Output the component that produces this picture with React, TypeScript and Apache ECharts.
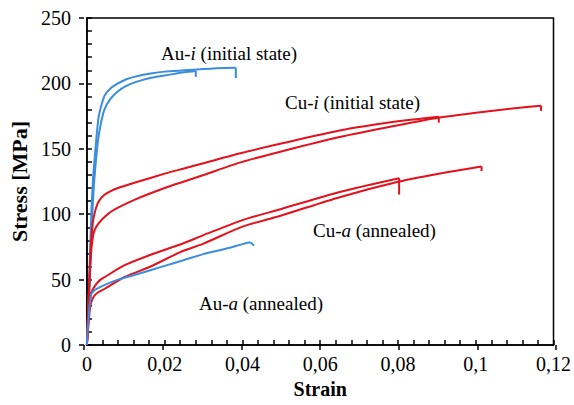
import React, { useEffect, useRef } from "react";
import * as echarts from "echarts";

// Tick labels
const xTickValues = [0, 0.02, 0.04, 0.06, 0.08, 0.1, 0.12];
const yTickValues = [0, 50, 100, 150, 200, 250];

// Au-i (initial state), two specimens (last point = fracture drop)
const auI1Strain = [0, 0.0004, 0.0008, 0.0012, 0.0016, 0.002, 0.0025, 0.003, 0.0038, 0.0046, 0.006, 0.008, 0.01, 0.0122, 0.0164, 0.02, 0.025, 0.03, 0.0334, 0.0383, 0.0383];
const auI1Stress = [0, 30, 70, 105, 128, 143, 160, 174, 184, 191, 196, 200, 203, 205, 207.5, 209, 210, 211, 211.5, 212, 204];
const auI2Strain = [0, 0.0005, 0.001, 0.0014, 0.0018, 0.0023, 0.0028, 0.0035, 0.0045, 0.006, 0.008, 0.01, 0.0125, 0.016, 0.02, 0.025, 0.028, 0.028];
const auI2Stress = [0, 30, 70, 100, 122, 140, 155, 168, 180, 188, 194, 198, 201, 204, 206, 208.5, 209.5, 205];

// Cu-i (initial state), two specimens
const cuI1Strain = [0, 0.0005, 0.001, 0.0015, 0.002, 0.0026, 0.0033, 0.0046, 0.006, 0.008, 0.0122, 0.02, 0.025, 0.03, 0.04, 0.05, 0.065, 0.08, 0.0905, 0.0905];
const cuI1Stress = [0, 40, 75, 93, 101, 107, 111, 115, 117.5, 120, 124, 131, 135, 139, 147, 154, 164, 171, 174.5, 170];
const cuI2Strain = [0, 0.0005, 0.001, 0.0015, 0.002, 0.003, 0.0046, 0.006, 0.008, 0.0122, 0.02, 0.025, 0.03, 0.04, 0.05, 0.065, 0.08, 0.09, 0.1, 0.11, 0.1168, 0.1168];
const cuI2Stress = [0, 38, 68, 82, 88, 93, 98, 101.5, 105, 111, 120, 125, 130, 140, 148, 159, 168, 173.5, 177.5, 181, 183, 179];

// Cu-a (annealed), two specimens
const cuA1Strain = [0, 0.0003, 0.0006, 0.0009, 0.0012, 0.0018, 0.0025, 0.0035, 0.0046, 0.0097, 0.0164, 0.025, 0.03, 0.04, 0.05, 0.065, 0.0803, 0.0803];
const cuA1Stress = [0, 15, 28, 36, 40.5, 44, 47, 50, 52, 61, 69, 78, 84, 95.5, 104, 117, 127.5, 115];
const cuA2Strain = [0, 0.0003, 0.0006, 0.0009, 0.0014, 0.002, 0.003, 0.0046, 0.0097, 0.0164, 0.024, 0.03, 0.04, 0.05, 0.065, 0.0803, 0.0905, 0.1015, 0.1015];
const cuA2Stress = [0, 12, 22, 30, 35, 38, 40.5, 43, 52, 60, 71, 77.5, 90.5, 99, 113, 125, 131, 136.5, 133];

// Au-a (annealed)
const auAStrain = [0, 0.0003, 0.0007, 0.0012, 0.0018, 0.0025, 0.0046, 0.008, 0.0122, 0.02, 0.025, 0.03, 0.035, 0.0405, 0.042, 0.043];
const auAStress = [0, 15, 30, 39.5, 41.5, 43, 46, 50, 53.5, 60.5, 65, 69.5, 73, 77.5, 78.5, 76];

const BLUE = "#3A8DDE";
const RED = "#E3111B";
const FONT = "'Liberation Serif', 'Times New Roman', serif";

const zip = (xs: number[], ys: number[]) => xs.map((x, i) => [x, ys[i]]);

const curves = [
  { name: "Au-i 1", color: BLUE, xs: auI1Strain, ys: auI1Stress },
  { name: "Au-i 2", color: BLUE, xs: auI2Strain, ys: auI2Stress },
  { name: "Cu-i 1", color: RED, xs: cuI1Strain, ys: cuI1Stress },
  { name: "Cu-i 2", color: RED, xs: cuI2Strain, ys: cuI2Stress },
  { name: "Cu-a 1", color: RED, xs: cuA1Strain, ys: cuA1Stress },
  { name: "Cu-a 2", color: RED, xs: cuA2Strain, ys: cuA2Stress },
  { name: "Au-a", color: BLUE, xs: auAStrain, ys: auAStress },
];

const fmtX = (v: number) => String(+v.toFixed(3)).replace(".", ",");

export default function App() {
  const ref = useRef<HTMLDivElement>(null);
  useEffect(() => {
    if (!ref.current) return;
    const chart = echarts.init(ref.current, null, { renderer: "svg" });
    const xMin = xTickValues[0];
    const xMax = xTickValues[xTickValues.length - 1];
    const yMin = yTickValues[0];
    const yMax = yTickValues[yTickValues.length - 1];
    const gridPos = { left: 84, right: 18, top: 18, bottom: 60 };
    const label = (text: string, x: number, y: number) => ({
      type: "text",
      left: x,
      top: y - 11,
      style: {
        text,
        fill: "#000",
        font: `19px ${FONT}`,
        rich: {
          n: { fontFamily: FONT, fontSize: 19, fill: "#000" },
          it: { fontFamily: FONT, fontSize: 19, fontStyle: "italic", fill: "#000" },
        },
      },
    });
    const series: any[] = [];
    curves.forEach((c) => {
      const pts = zip(c.xs, c.ys);
      series.push({
        name: c.name,
        type: "line",
        xAxisIndex: 0,
        yAxisIndex: 0,
        data: pts.slice(0, -1),
        showSymbol: false,
        symbol: "none",
        smooth: 0.25,
        lineStyle: { color: c.color, width: 2 },
        itemStyle: { color: c.color },
      });
      series.push({
        name: c.name + " drop",
        type: "line",
        xAxisIndex: 0,
        yAxisIndex: 0,
        data: pts.slice(-2),
        showSymbol: false,
        symbol: "none",
        lineStyle: { color: c.color, width: 2 },
        itemStyle: { color: c.color },
      });
    });
    chart.setOption({
      animation: false,
      backgroundColor: "#fff",
      grid: [
        { ...gridPos, show: true, borderColor: "#000", borderWidth: 1.5, backgroundColor: "transparent" },
        { ...gridPos },
      ],
      xAxis: [
        {
          type: "value",
          gridIndex: 0,
          min: xMin,
          max: xMax,
          interval: 0.02,
          name: "Strain",
          nameLocation: "middle",
          nameGap: 33,
          nameTextStyle: { fontFamily: FONT, fontSize: 20, fontWeight: "bold", color: "#000" },
          axisLine: { show: true, lineStyle: { color: "#000", width: 1.5 } },
          axisTick: { show: true, inside: true, length: 5, lineStyle: { color: "#000", width: 1.5 } },
          minorTick: { show: true, splitNumber: 5, length: 5, lineStyle: { color: "#000", width: 1.5 } },
          splitLine: { show: false },
          axisLabel: { margin: 9, fontFamily: FONT, fontSize: 20, color: "#000", formatter: fmtX },
        },
        {
          type: "value",
          gridIndex: 1,
          min: xMin,
          max: xMax,
          interval: 0.02,
          position: "bottom",
          axisLine: { show: false },
          axisTick: { show: true, inside: false, length: 5, lineStyle: { color: "#000", width: 1.5 } },
          splitLine: { show: false },
          axisLabel: { show: false },
        },
      ],
      yAxis: [
        {
          type: "value",
          gridIndex: 0,
          min: yMin,
          max: yMax,
          interval: 50,
          name: "Stress [MPa]",
          nameLocation: "middle",
          nameGap: 52,
          nameTextStyle: { fontFamily: FONT, fontSize: 22, fontWeight: "bold", color: "#000" },
          axisLine: { show: true, lineStyle: { color: "#000", width: 1.5 } },
          axisTick: { show: true, inside: true, length: 5, lineStyle: { color: "#000", width: 1.5 } },
          minorTick: { show: true, splitNumber: 5, length: 5, lineStyle: { color: "#000", width: 1.5 } },
          splitLine: { show: false },
          axisLabel: { margin: 16, fontFamily: FONT, fontSize: 20, color: "#000" },
        },
        {
          type: "value",
          gridIndex: 1,
          min: yMin,
          max: yMax,
          interval: 50,
          position: "left",
          axisLine: { show: false },
          axisTick: { show: true, inside: false, length: 5, lineStyle: { color: "#000", width: 1.5 } },
          splitLine: { show: false },
          axisLabel: { show: false },
        },
      ],
      series,
      graphic: [
        label("{n|Au-}{it|i}{n| (initial state)}", 161, 55),
        label("{n|Cu-}{it|i}{n| (initial state)}", 285, 104),
        label("{n|Cu-}{it|a}{n| (annealed)}", 313, 232),
        label("{n|Au-}{it|a}{n| (annealed)}", 199, 305),
      ],
    });
    return () => chart.dispose();
  }, []);
  return <div ref={ref} style={{ position: "fixed", left: 0, top: 0, width: 574, height: 405 }} />;
}
